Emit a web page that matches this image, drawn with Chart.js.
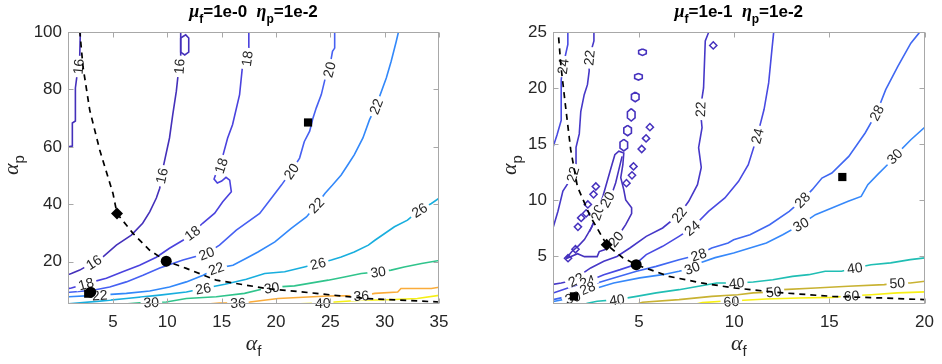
<!DOCTYPE html>
<html>
<head>
<meta charset="utf-8">
<script src="https://cdn.jsdelivr.net/npm/chart.js@4.4.1/dist/chart.umd.min.js"></script>
<style>
  html, body { margin: 0; padding: 0; background: #fff; }
  #wrap { position: relative; width: 942px; height: 364px; }
  canvas { position: absolute; top: 0; }
  #left { left: 0; }
  #right { left: 471px; }
</style>
</head>
<body>
<div id="wrap">
  <canvas id="left" width="471" height="364"></canvas>
  <canvas id="right" width="471" height="364"></canvas>
</div>
<script>
// ---- left panel: mu_f = 1e-0, eta_p = 1e-2 ----
var leftXTicks = [5, 10, 15, 20, 25, 30, 35];
var leftYTicks = [20, 40, 60, 80, 100];

var L16a = [[0.86,54.4],[0.86,60],[1.26,60.3],[1.26,68.3],[1.54,69],[1.54,80.5],[1.66,84],[1.94,91.6],[2.0,100.5]];
var L16b = [[0.8,15.4],[1.17,15.9],[1.94,17.1],[4.08,21.7],[5.31,25.8],[6.69,29.3],[7.73,33.4],[8.38,37.4],[8.99,42.2],[9.3,45.6],[9.6,52.6],[10.2,63.1],[10.5,71.2],[10.83,79.4],[10.98,84.7],[11.23,91.6],[11.23,100.5]];
var L16loop = [[11.23,97.9],[11.69,99.0],[11.97,97.9],[11.97,93.0],[11.6,92.0],[11.23,93.0],[11.23,97.9]];
var L18 = [[0.8,10.6],[1.17,10.9],[3.13,13.0],[4.39,14.3],[5.89,16.5],[7.45,18.8],[8.99,21.6],[10.2,24.7],[11.44,27.5],[12.3,30],[13.25,33.4],[14.36,36.9],[15.1,40.9],[15.89,44.4],[15.74,48.4],[15.4,49.4],[15.0,48.1],[14.6,47.4],[14.3,48.8],[14.5,50.9],[14.9,52.5],[15.1,56.8],[15.55,63.1],[16.0,67.7],[16.65,78.2],[16.9,87.5],[17.5,92.1],[17.5,100.5]];
var L20 = [[0.8,9.3],[1.02,9.4],[3.16,10.1],[4.7,11.25],[6.23,13.0],[7.76,15.3],[9.3,17.8],[11.44,20.6],[13.6,22.9],[14.8,25.8],[16.35,31.0],[18.5,36.8],[19.57,42.1],[20.5,46.7],[21.4,51.5],[22.17,56.1],[22.6,61.8],[23.1,65.5],[23.4,70.0],[23.7,73.5],[24.17,78.2],[24.5,83.4],[24.9,86.9],[25.2,93.3],[25.4,94.4],[25.4,100.5]];
var L22 = [[0.8,7.7],[0.93,7.8],[3.78,8.4],[6.23,9.0],[8.38,9.8],[10.2,11.25],[11.75,13.0],[13.3,15.3],[14.5,17.7],[16.04,18.8],[17.27,21.2],[18.34,23.4],[19.9,26.9],[21.4,31.6],[22.8,35.6],[23.7,39.7],[24.5,43.8],[25.2,46.7],[26.0,50.2],[26.6,53.7],[27.2,57.2],[28.0,63.1],[28.6,69.4],[29.2,74.1],[30.15,84.0],[30.6,89.8],[31.07,96.8],[31.3,100.5]];
var L26 = [[0.8,5.35],[0.92,5.4],[3.78,6.3],[6.23,7.2],[9.3,8.4],[11.75,9.5],[13.3,10.7],[15.3,12.2],[17.27,13.9],[18.96,15.9],[20.8,16.5],[22.6,18.2],[23.86,19.4],[25.1,20.6],[26.0,21.7],[27.2,23.4],[28.5,25.8],[29.1,27.5],[30.9,32.2],[32.1,34.5],[33.2,38.0],[34.3,40.3],[35.2,42.6]];
var L30 = [[5.8,5.2],[7.46,5.75],[8.53,5.9],[9.9,6.0],[11.75,7.2],[14.5,7.8],[17.1,9.0],[18.96,10.7],[20.2,11.25],[21.7,11.6],[24.8,13.6],[26.3,14.7],[27.85,15.9],[29.4,16.5],[30.6,17.1],[31.8,18.2],[33.4,19.4],[35.2,20.6]];
var L36 = [[13.4,5.2],[14.8,5.6],[16.5,5.7],[17.6,6.0],[20.2,7.2],[24.8,8.1],[27.85,8.2],[29.1,9.0],[31.2,9.5],[31.5,10.7],[34.3,10.7],[35.2,11.25]];
var L40 = [[20.6,5.2],[22.2,5.4],[24.3,5.6],[25.4,6.0],[27.85,6.6],[30.3,6.8],[33.0,7.2],[35.2,8.4]];
var leftFront = [[1.94,100.5],[2.24,87.9],[2.86,72.8],[3.78,58.9],[5.0,43.8],[5.37,36.8],[6.84,29.9],[8.38,24.0],[9.9,20.2],[11.75,17.7],[14.5,13.6],[19.1,10.7],[23.7,9.0],[28.3,7.2],[35,6.0]];
var leftDiamonds = [[5.37,36.8]];
var leftCircles = [[9.9,20.2],[2.95,9.4]];
var leftSquares = [[22.95,68.5],[2.72,8.9]];

// ---- right panel: mu_f = 1e-1, eta_p = 1e-2 ----
var rightXTicks = [5, 10, 15, 20];
var rightYTicks = [5, 10, 15, 20, 25];

var R24a = [[1.26,25.5],[1.26,23.9],[1.0,21.9],[0.91,20.7],[0.91,17.1],[0.69,15.8],[0.48,14.7],[0.4,12.9]];
var R22a = [[2.63,25.5],[2.63,24.2],[2.38,22.7],[2.38,21.5],[2.29,20.3],[2.12,19.4],[1.94,17.9],[1.86,15.9],[1.69,14.7],[1.69,13.2],[1.46,12.0],[1.0,10.8],[0.74,9.0],[0.48,7.5],[0.4,7.2]];
var R20island = [[1.16,4.76],[1.46,5.38],[1.83,5.92],[2.13,6.46],[2.5,7.53],[2.8,8.78],[3.11,10.38],[3.32,11.63],[3.53,12.88],[3.73,14.04],[3.94,14.35],[4.2,14.2],[4.15,13.15],[4.04,11.99],[4.2,10.9],[4.3,10.0],[4.61,9.31],[4.61,8.78],[4.3,7.8],[3.99,7.0],[3.63,6.19],[3.22,5.57],[2.91,5.39],[2.8,4.94],[2.13,4.94],[1.77,5.2],[1.16,4.76]];
var R20inner = [[2.39,7.17],[3.0,9.3],[3.59,10.63],[3.77,11.52],[3.94,12.71],[4.11,13.89]];
var R20h1 = [[5.18,23.49],[5.38,23.35],[5.38,23.05],[5.18,22.91],[4.98,23.05],[4.98,23.35],[5.18,23.49]];
var R20h2 = [[4.97,21.29],[5.17,21.15],[5.17,20.85],[4.97,20.71],[4.77,20.85],[4.77,21.15],[4.97,21.29]];
var R20h3 = [[4.8,19.63],[5.0,19.42],[5.0,18.98],[4.8,18.77],[4.6,18.98],[4.6,19.42],[4.8,19.63]];
var R20h4 = [[4.59,18.15],[4.79,17.87],[4.79,17.33],[4.59,17.05],[4.39,17.33],[4.39,17.87],[4.59,18.15]];
var R20h5 = [[4.4,16.66],[4.6,16.43],[4.6,15.97],[4.4,15.74],[4.2,15.97],[4.2,16.43],[4.4,16.66]];
var R20h6 = [[4.2,15.42],[4.4,15.16],[4.4,14.64],[4.2,14.38],[4.0,14.64],[4.0,15.16],[4.2,15.42]];
var R20dots = [[8.9,23.8],[5.57,16.5],[5.37,15.5],[5.14,14.55],[4.71,13.0],[4.63,12.2],[4.34,11.5],[2.73,11.2],[2.61,10.5],[2.31,9.6],[2.22,8.8],[1.96,8.4],[1.79,7.6],[1.66,5.6],[1.27,4.8]];
var R22b = [[8.65,25.5],[8.65,24.94],[8.48,24.2],[8.39,20.0],[8.22,18.1],[8.31,16.45],[8.13,14.67],[8.27,12.9],[8.07,11.37],[7.61,9.88],[7.1,8.69],[6.24,7.5],[5.38,6.75],[4.52,5.71],[3.84,4.96],[3.15,4.52],[2.46,3.93],[1.94,3.33],[1.69,2.88],[0.91,2.59],[0.4,2.44]];
var R24b = [[12.1,25.5],[12.07,24.9],[11.98,23.4],[11.81,20.45],[11.57,18.1],[11.21,15.7],[10.74,13.15],[10.23,11.66],[9.51,10.18],[8.65,8.98],[7.79,7.5],[7.1,6.75],[6.24,5.86],[5.38,5.12],[4.78,4.22],[4.01,3.78],[3.15,3.33],[2.29,2.73],[1.26,2.14],[0.49,1.7],[0.4,1.65]];
var R28 = [[19.8,25.5],[19.71,24.9],[19.28,24.0],[18.59,21.9],[17.96,19.85],[17.48,17.77],[16.88,15.98],[16.02,13.89],[15.13,12.41],[14.61,11.96],[14.1,10.92],[13.58,10.0],[12.89,8.98],[11.86,7.79],[10.83,6.9],[9.97,6.45],[9.68,6.16],[8.82,5.71],[8.13,5.11],[7.1,4.67],[5.9,4.07],[4.87,3.63],[3.67,3.04],[2.8,2.59],[2.29,2.14],[1.26,1.39],[0.49,1.1],[0.4,1.05]];
var R30 = [[20.1,16.5],[19.97,16.43],[19.28,15.38],[18.42,13.89],[18.05,13.15],[17.53,12.26],[17.02,11.37],[16.67,10.32],[15.99,9.88],[15.13,9.29],[14.27,8.69],[13.5,7.8],[12.55,6.9],[11.69,6.16],[10.83,5.71],[9.97,5.27],[9.0,4.85],[8.3,4.45],[7.79,3.93],[7.1,3.63],[6.24,3.33],[5.04,3.04],[3.67,2.59],[2.8,2.14],[2.29,1.84],[1.52,1.28],[0.57,0.95],[0.45,0.9]];
var R40 = [[2.0,0.6],[2.29,0.78],[2.8,0.95],[3.84,1.1],[4.87,1.39],[5.9,1.7],[7.1,1.99],[8.13,2.29],[9.08,2.59],[10.13,2.59],[11.0,2.68],[12.03,2.88],[13.06,3.18],[13.92,3.33],[14.78,3.63],[15.64,3.63],[16.33,3.93],[17.19,4.22],[18.22,4.38],[19.25,4.67],[20.1,4.85]];
var R50 = [[4.9,0.7],[5.18,0.87],[7.1,1.1],[8.82,1.39],[10.19,1.54],[11.0,1.7],[12.07,1.79],[12.55,1.99],[14.27,2.14],[15.99,2.29],[17.88,2.44],[18.57,2.59],[19.25,2.59],[20.1,2.75]];
var R60 = [[8.0,0.7],[8.32,0.83],[9.34,0.95],[9.85,0.95],[10.49,1.05],[11.69,1.16],[13.41,1.25],[15.13,1.3],[16.16,1.45],[17.19,1.54],[18.57,1.7],[20.1,1.8]];
var rightFront = [[0.73,25.5],[0.9,21.9],[1.16,18.06],[1.41,14.49],[1.76,11.21],[2.44,8.53],[3.3,6.0],[4.16,4.82],[4.85,4.22],[6.57,3.18],[8.28,2.59],[10.0,2.14],[12.58,1.7],[15.16,1.39],[17.74,1.25],[20.0,1.1]];
var rightDiamonds = [[3.3,6.0]];
var rightCircles = [[4.85,4.22]];
var rightSquares = [[15.68,12.05],[1.58,1.39]];

// contour levels with their label spots (data coords, snapped onto the line)
var leftContours = [
    { level: 16, pts: L16a, labels: [[1.8,88]] },
    { level: 16, pts: L16b, labels: [[3.2,20],[9.4,50],[11.1,88]] },
    { level: 16, pts: L16loop, labels: [] },
    { level: 18, pts: L18, labels: [[2.55,11.8],[12.3,30],[14.9,53.5],[17.2,91]] },
    { level: 20, pts: L20, labels: [[13.6,22.9],[21.4,51.5],[24.9,86.9]] },
    { level: 22, pts: L22, labels: [[3.78,8.4],[14.5,17.7],[23.7,39.7],[29.2,74.1]] },
    { level: 26, pts: L26, labels: [[13.3,10.7],[23.86,19.4],[33.2,38.0]] },
    { level: 30, pts: L30, labels: [[8.53,5.9],[19.6,11.0],[29.4,16.5]] },
    { level: 36, pts: L36, labels: [[16.5,5.7],[27.85,8.2]] },
    { level: 40, pts: L40, labels: [[24.3,5.6]] }
];
var rightContours = [
    { level: 24, pts: R24a, labels: [[1.05,21.9]] },
    { level: 22, pts: R22a, labels: [[2.38,22.7],[1.5,12.3]] },
    { level: 20, pts: R20island, labels: [[2.6,9.0],[3.7,6.6]] },
    { level: 20, pts: R20inner, labels: [[3.34,10.03]] },
    { level: 20, pts: R20h1, labels: [] },
    { level: 20, pts: R20h2, labels: [] },
    { level: 20, pts: R20h3, labels: [] },
    { level: 20, pts: R20h4, labels: [] },
    { level: 20, pts: R20h5, labels: [] },
    { level: 20, pts: R20h6, labels: [] },
    { level: 22, pts: R22b, labels: [[8.22,18.1],[7.1,8.69],[1.69,2.88]] },
    { level: 24, pts: R24b, labels: [[11.21,15.7],[7.79,7.5],[2.29,2.73]] },
    { level: 28, pts: R28, labels: [[17.48,17.77],[13.58,10.0],[8.13,5.11],[2.29,2.14]] },
    { level: 30, pts: R30, labels: [[18.42,13.89],[13.5,7.8],[7.79,3.93],[1.52,1.28]] },
    { level: 40, pts: R40, labels: [[3.84,1.1],[10.13,2.59],[16.33,3.93]] },
    { level: 50, pts: R50, labels: [[12.07,1.79],[18.57,2.59]] },
    { level: 60, pts: R60, labels: [[9.85,0.95],[16.16,1.45]] }
];

// colours (parula-like)
var leftColors = { 16: 'rgb(68,48,186)', 18: 'rgb(74,66,222)', 20: 'rgb(70,96,242)', 22: 'rgb(50,136,250)',
    26: 'rgb(24,174,222)', 30: 'rgb(48,196,140)', 36: 'rgb(250,172,58)', 40: 'rgb(246,240,22)' };
var rightColors = { 20: 'rgb(70,50,190)', 22: 'rgb(70,56,200)', 24: 'rgb(72,74,226)', 28: 'rgb(64,104,242)',
    30: 'rgb(54,136,250)', 40: 'rgb(32,190,180)', 50: 'rgb(200,178,50)', 60: 'rgb(248,240,20)' };

var FONTS = {
    n: 'bold 17px "Liberation Sans", Arial, sans-serif',
    g: 'italic bold 18px "Liberation Serif", serif',
    s: 'bold 12px "Liberation Sans", Arial, sans-serif',
    a: 'italic 22px "Liberation Serif", serif',
    as: '15px "Liberation Sans", Arial, sans-serif'
};

function drawRich(ctx, parts, cx, cy, rot, color) {
    ctx.save();
    ctx.translate(cx, cy);
    ctx.rotate(rot);
    ctx.textAlign = 'left';
    ctx.textBaseline = 'alphabetic';
    ctx.fillStyle = color;
    var total = 0;
    parts.forEach(function (p) { ctx.font = FONTS[p[1]]; total += ctx.measureText(p[0]).width; });
    var x = -total / 2;
    parts.forEach(function (p) {
        ctx.font = FONTS[p[1]];
        var dy = (p[1] === 's' || p[1] === 'as') ? 6 : 0;
        ctx.fillText(p[0], x, dy);
        x += ctx.measureText(p[0]).width;
    });
    ctx.restore();
}

function drawContourLabels(chart) {
    var ctx = chart.ctx, xs = chart.scales.x, ys = chart.scales.y;
    ctx.save();
    ctx.font = '14px "Liberation Sans", Arial, sans-serif';
    ctx.textAlign = 'center';
    ctx.textBaseline = 'middle';
    chart.data.datasets.forEach(function (ds, i) {
        if (!ds.contourLabels || !ds.contourLabels.length) return;
        var pts = chart.getDatasetMeta(i).data.map(function (e) { return [e.x, e.y]; });
        ds.contourLabels.forEach(function (lab) {
            var px = xs.getPixelForValue(lab[0]), py = ys.getPixelForValue(lab[1]);
            var best = null;
            for (var k = 0; k < pts.length - 1; k++) {
                var ax = pts[k][0], ay = pts[k][1], dx = pts[k + 1][0] - ax, dy = pts[k + 1][1] - ay;
                var len2 = dx * dx + dy * dy || 1;
                var t = Math.max(0, Math.min(1, ((px - ax) * dx + (py - ay) * dy) / len2));
                var qx = ax + t * dx, qy = ay + t * dy, d = (qx - px) * (qx - px) + (qy - py) * (qy - py);
                if (!best || d < best.d) best = { d: d, qx: qx, qy: qy, k: k };
            }
            var a = pts[Math.max(0, best.k - 1)], b = pts[Math.min(pts.length - 1, best.k + 2)];
            var ang = Math.atan2(b[1] - a[1], b[0] - a[0]);
            if (ang > Math.PI / 2) ang -= Math.PI;
            if (ang < -Math.PI / 2) ang += Math.PI;
            var text = String(ds.level), w = ctx.measureText(text).width;
            ctx.save();
            ctx.translate(best.qx, best.qy);
            ctx.rotate(ang);
            ctx.fillStyle = '#fff';
            ctx.fillRect(-w / 2 - 3, -5, w + 6, 10);
            ctx.fillStyle = '#262626';
            ctx.fillText(text, 0, 1);
            ctx.restore();
        });
    });
    ctx.restore();
}

var decor = {
    id: 'decor',
    beforeDatasetDraw: function (chart, args) {
        if (chart.data.datasets[args.index].isFront) drawContourLabels(chart);
    },
    afterDraw: function (chart, args, o) {
        var ctx = chart.ctx, a = chart.chartArea, xs = chart.scales.x, ys = chart.scales.y;
        ctx.save();
        ctx.strokeStyle = '#a8a8a8';
        ctx.lineWidth = 1;
        var L = Math.round(a.left) + 0.5, T = Math.round(a.top) + 0.5, R = Math.round(a.right) - 0.5, B = Math.round(a.bottom) - 0.5;
        ctx.strokeRect(L, T, R - L, B - T);
        ctx.beginPath();
        o.xTicks.forEach(function (v) {
            var x = Math.round(xs.getPixelForValue(v)) + 0.5;
            ctx.moveTo(x, B); ctx.lineTo(x, B - 5);
            ctx.moveTo(x, T); ctx.lineTo(x, T + 5);
        });
        o.yTicks.forEach(function (v) {
            var y = Math.round(ys.getPixelForValue(v)) + 0.5;
            ctx.moveTo(L, y); ctx.lineTo(L + 5, y);
            ctx.moveTo(R, y); ctx.lineTo(R - 5, y);
        });
        ctx.stroke();
        var cx = (a.left + a.right) / 2;
        drawRich(ctx, o.title, cx, 17, 0, '#000');
        drawRich(ctx, [['\u03b1', 'a'], ['f', 'as']], cx, 350, 0, '#262626');
        drawRich(ctx, [['\u03b1', 'a'], ['p', 'as']], o.yTitleX, (a.top + a.bottom) / 2 - 3, -Math.PI / 2, '#262626');
        ctx.restore();
    }
};

function buildPanel(id, p) {
    var ds = [];
    var marks = [['rectRot', 6, p.diamonds], ['circle', 5.5, p.circles], ['rect', 5.8, p.squares]];
    marks.forEach(function (m) {
        ds.push({ data: m[2], pointStyle: m[0], pointRadius: m[1], pointBackgroundColor: '#000',
            pointBorderColor: '#000', pointBorderWidth: 0, showLine: false, order: 0, clip: false });
    });
    ds.push({ data: p.front, showLine: true, borderColor: '#000', borderWidth: 1.7, borderDash: [6, 5],
        pointRadius: 0, order: 1, clip: 0, isFront: true });
    p.contours.forEach(function (c) {
        ds.push({ data: c.pts, showLine: true, borderColor: p.colors[c.level], borderWidth: 1.6,
            pointRadius: 0, tension: 0, order: 2, clip: 0, level: c.level, contourLabels: c.labels });
    });
    if (p.dots) {
        ds.push({ data: p.dots, showLine: false, pointStyle: 'rectRot', pointRadius: 3.6,
            pointBackgroundColor: 'rgba(0,0,0,0)', pointBorderColor: p.colors[20], pointBorderWidth: 1.5,
            order: 2, clip: 0 });
    }
    var tickFont = { family: '"Liberation Sans", Arial, sans-serif', size: 17 };
    new Chart(document.getElementById(id), {
        type: 'scatter',
        data: { datasets: ds },
        options: {
            responsive: false,
            animation: false,
            events: [],
            devicePixelRatio: 1,
            layout: { padding: { top: 32, right: p.padRight, bottom: 0, left: 0 } },
            plugins: {
                legend: { display: false },
                tooltip: { enabled: false },
                decor: { title: p.title, xTicks: p.xTicks, yTicks: p.yTicks, yTitleX: p.yTitleX }
            },
            scales: {
                x: {
                    type: 'linear', min: p.xMin, max: p.xMax,
                    grid: { display: false, drawTicks: false },
                    border: { display: false },
                    ticks: { font: tickFont, color: '#262626', padding: 8, maxRotation: 0, autoSkip: false },
                    afterBuildTicks: function (s) { s.ticks = p.xTicks.map(function (v) { return { value: v }; }); },
                    afterFit: function (s) { s.height = 60; }
                },
                y: {
                    type: 'linear', min: p.yMin, max: p.yMax,
                    grid: { display: false, drawTicks: false },
                    border: { display: false },
                    ticks: { font: tickFont, color: '#262626', padding: 6, autoSkip: false },
                    afterBuildTicks: function (s) { s.ticks = p.yTicks.map(function (v) { return { value: v }; }); },
                    afterFit: function (s) { s.width = p.axisW; }
                }
            }
        },
        plugins: [decor]
    });
}

buildPanel('left', {
    title: [['\u03bc', 'g'], ['f', 's'], ['=1e-0  ', 'n'], ['\u03b7', 'g'], ['p', 's'], ['=1e-2', 'n']],
    xMin: 0.86, xMax: 35, yMin: 5.3, yMax: 100,
    xTicks: leftXTicks, yTicks: leftYTicks,
    axisW: 68, padRight: 32, yTitleX: 18,
    contours: leftContours, colors: leftColors, front: leftFront,
    diamonds: leftDiamonds, circles: leftCircles, squares: leftSquares
});

buildPanel('right', {
    title: [['\u03bc', 'g'], ['f', 's'], ['=1e-1  ', 'n'], ['\u03b7', 'g'], ['p', 's'], ['=1e-2', 'n']],
    xMin: 0.48, xMax: 20, yMin: 0.71, yMax: 25,
    xTicks: rightXTicks, yTicks: rightYTicks,
    axisW: 82, padRight: 11, yTitleX: 45,
    contours: rightContours, colors: rightColors, front: rightFront, dots: R20dots,
    diamonds: rightDiamonds, circles: rightCircles, squares: rightSquares
});
</script>
</body>
</html>
